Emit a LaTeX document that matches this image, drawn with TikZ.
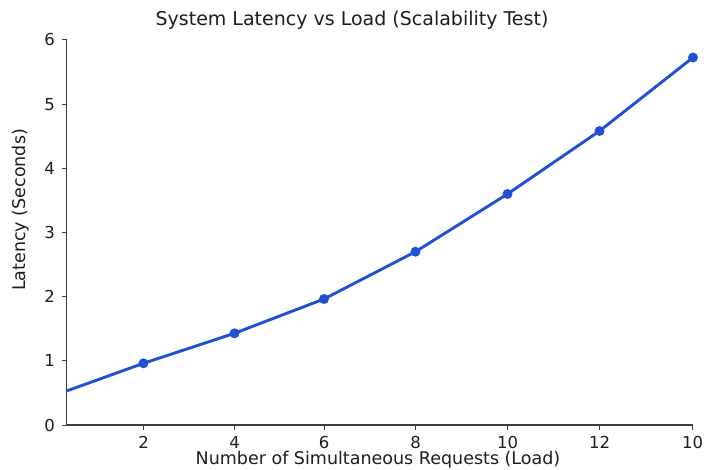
\documentclass[tikz,border=0pt]{standalone}
\usepackage{fontspec}
\setmainfont{DejaVu Sans}
\definecolor{lineblue}{RGB}{34,80,212}
\definecolor{axisgray}{RGB}{60,60,60}
\definecolor{txt}{RGB}{30,30,30}
\begin{document}
\begin{tikzpicture}[x=1pt,y=-1pt,
  axisline/.style={draw=axisgray,line width=1.1pt},
  tickmark/.style={draw=axisgray,line width=1pt},
  ticklabel/.style={font=\fontsize{16.5}{18}\selectfont,text=txt,inner sep=0pt},
  axislabel/.style={font=\fontsize{17.5}{19}\selectfont,text=txt,inner sep=0pt},
  titlelabel/.style={font=\fontsize{19}{21}\selectfont,text=txt,inner sep=0pt},
  series/.style={draw=lineblue,line width=2.9pt,line join=round},
  marker/.style={circle,fill=lineblue,inner sep=0pt,minimum size=10pt}]
\useasboundingbox[fill=white] (0,0) rectangle (704,470);

% axes
\coordinate (top) at (66.5,40);
\coordinate (origin) at (66.5,425);
\coordinate (right) at (692.5,425);
\draw[axisline] (top) -- (origin) -- (right);

% y ticks
\foreach \k in {0,...,6}{
  \coordinate (yt\k) at (66.5,{425-64.17*\k});
  \coordinate (ytl\k) at (61.5,{425-64.17*\k});
  \draw[tickmark] (yt\k) -- (ytl\k);
  \node[ticklabel,anchor=east] (ylab\k) at (55,{425-64.17*\k}) {\k};
}

% x ticks
\foreach \xp/\lab [count=\i] in {143.5/2,234.5/4,324/6,415.5/8,507.5/10,599.5/12,692.5/10}{
  \coordinate (xt\i) at (\xp,425);
  \coordinate (xtl\i) at (\xp,430);
  \draw[tickmark] (xt\i) -- (xtl\i);
  \node[ticklabel] (xlab\i) at (\xp,442) {\lab};
}

% labels
\node[titlelabel] (title) at (352,20) {System Latency vs Load (Scalability Test)};
\node[axislabel] (xlabel) at (378,460) {Number of Simultaneous Requests (Load)};
\node[axislabel,rotate=90] (ylabel) at (21,210) {Latency (Seconds)};

% data
\coordinate (p0) at (66.5,391);
\coordinate (p1) at (143.5,363.3);
\coordinate (p2) at (234.5,333.3);
\coordinate (p3) at (324,299);
\coordinate (p4) at (415.5,251.7);
\coordinate (p5) at (507.5,194);
\coordinate (p6) at (599.5,131);
\coordinate (p7) at (693,57.5);
\draw[series] (p0) -- (p1) -- (p2) -- (p3) -- (p4) -- (p5) -- (p6) -- (p7);
\foreach \i in {1,...,7}{
  \node[marker] (m\i) at (p\i) {};
}
\end{tikzpicture}
\end{document}
